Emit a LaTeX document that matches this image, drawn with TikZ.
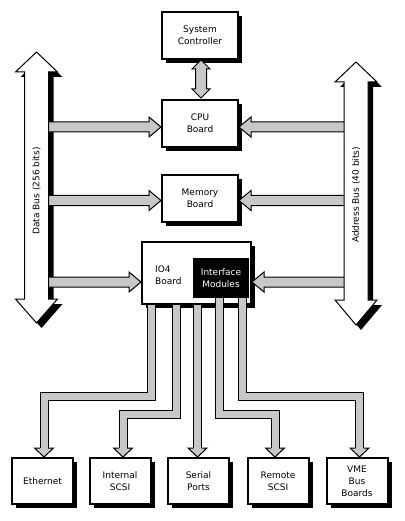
\documentclass[tikz,border=0pt]{standalone}
\usepackage{fontspec}
\setmainfont{DejaVu Sans}
\usetikzlibrary{calc,shadows}
\definecolor{agray}{RGB}{200,200,200}
\tikzset{
  box/.style={draw=black, line width=2pt, fill=white, minimum width=76pt, minimum height=47pt,
    align=center, inner sep=0pt, font=\fontsize{9}{12}\selectfont,
    drop shadow={shadow xshift=4pt, shadow yshift=-4pt, fill=black, opacity=1}},
  smallbox/.style={box, minimum width=61pt, minimum height=46pt},
  fat/.style={fill=agray, draw=black, line width=1pt, line join=miter},
  band/.style={draw=black, line width=1pt, double=agray, double distance=7pt, line join=miter, line cap=butt},
  bus/.style={fill=white, draw=black, line width=1pt, line join=miter},
  busshadow/.style={fill=black, shift={(5,5)}},
  lbl/.style={inner sep=0pt, font=\fontsize{9}{12}\selectfont, align=left},
}
% fat bus arrow: cx, shaft half, head half, top tip, top base, bottom base, bottom tip
\newcommand\busarrow[7]{(#1,#4) -- (#1+#3,#5) -- (#1+#2,#5) -- (#1+#2,#6) -- (#1+#3,#6) -- (#1,#7) -- (#1-#3,#6) -- (#1-#2,#6) -- (#1-#2,#5) -- (#1-#3,#5) -- cycle}
% horizontal fat arrows: #1 start, #2 tip
\newcommand\fatright[2]{\path[fat] ($(#1)+(0,-5)$) -- ($(#2)+(-12,-5)$) -- ($(#2)+(-12,-10)$) -- (#2) -- ($(#2)+(-12,10)$) -- ($(#2)+(-12,5)$) -- ($(#1)+(0,5)$);}
\newcommand\fatleft[2]{\path[fat] ($(#1)+(0,-5)$) -- ($(#2)+(12,-5)$) -- ($(#2)+(12,-10)$) -- (#2) -- ($(#2)+(12,10)$) -- ($(#2)+(12,5)$) -- ($(#1)+(0,5)$);}
% down arrow head at tip #1
\newcommand\downhead[1]{\path[fat] ($(#1)+(-4,-9)$) -- ($(#1)+(-9.5,-9)$) -- (#1) -- ($(#1)+(9.5,-9)$) -- ($(#1)+(4,-9)$);}
\begin{document}
\begin{tikzpicture}[x=1pt,y=-1pt]
\useasboundingbox (0,0) rectangle (404,521);
\fill[white] (0,0) rectangle (404,521);

% boxes
\node[box] (sc) at (200,35.5) {System\\Controller};
\node[box] (cpu) at (200,123.5) {CPU\\Board};
\node[box] (mem) at (200,198.5) {Memory\\Board};
\node[box, minimum width=109pt, minimum height=62pt] (io4) at (196.5,273) {};
\node[lbl, anchor=west] (io4t) at (155,275) {IO4\\Board};
\node[fill=black, text=white, minimum width=56pt, minimum height=40pt, inner sep=0pt,
  align=center, font=\fontsize{9}{12}\selectfont] (im) at (221,278) {Interface\\Modules};

\node[smallbox] (eth) at (42.5,481) {Ethernet};
\node[smallbox] (isc) at (120,481) {Internal\\SCSI};
\node[smallbox] (ser) at (198.5,481) {Serial\\Ports};
\node[smallbox] (rsc) at (278,481) {Remote\\SCSI};
\node[smallbox] (vme) at (357,481) {VME\\Bus\\Boards};

% bus shadows
\fill[busshadow] \busarrow{36.5}{12}{21}{52}{72}{299}{323};
\fill[busshadow] \busarrow{356}{12}{21}{62}{82}{300}{325};

% horizontal arrows
\coordinate (dl1) at (49,127);  \coordinate (cl) at (cpu.west |- dl1);
\coordinate (dl2) at (49,200.5); \coordinate (ml) at (mem.west |- dl2);
\coordinate (dl3) at (49,282);  \coordinate (il) at (io4.west |- dl3);
\coordinate (ar1) at (350,127);  \coordinate (cr) at (cpu.east |- ar1);
\coordinate (ar2) at (350,200.5); \coordinate (mr) at (mem.east |- ar2);
\coordinate (ar3) at (350,282);  \coordinate (ir) at (io4.east |- ar3);
\fatright{dl1}{cl}
\fatright{dl2}{ml}
\fatright{dl3}{il}
\fatleft{ar1}{cr}
\fatleft{ar2}{mr}
\fatleft{ar3}{ir}

% buses
\path[bus] \busarrow{36.5}{12}{21}{52}{72}{299}{323};
\path[bus] \busarrow{356}{12}{21}{62}{82}{300}{325};
\node[lbl, rotate=90] (dbus) at (36.5,191) {Data Bus (256 bits)};
\node[lbl, rotate=90] (abus) at (356,195) {Address Bus (40 bits)};

% system controller <-> cpu
\path[fat] (201,60) -- (210,69) -- (206.5,69) -- (206.5,89) -- (210,89) -- (201,98) -- (192,89) -- (195.5,89) -- (195.5,69) -- (192,69) -- cycle;

% IO4 connectors
\coordinate (e1) at (44,457);
\coordinate (e2) at (123,457);
\coordinate (e3) at (197.5,457);
\coordinate (e4) at (275,457);
\coordinate (e5) at (359.5,457);
\draw[band] (151,305) -- (151,396.5) -- (44,396.5) -- ($(e1)+(0,-9)$);
\draw[band] (176,305) -- (176,414.5) -- (123,414.5) -- ($(e2)+(0,-9)$);
\draw[band] (197.5,305) -- ($(e3)+(0,-9)$);
\draw[band] (219.5,298) -- (219.5,414.5) -- (275,414.5) -- ($(e4)+(0,-9)$);
\draw[band] (242,298) -- (242,396.5) -- (359.5,396.5) -- ($(e5)+(0,-9)$);
\downhead{e1}
\downhead{e2}
\downhead{e3}
\downhead{e4}
\downhead{e5}
\end{tikzpicture}
\end{document}
